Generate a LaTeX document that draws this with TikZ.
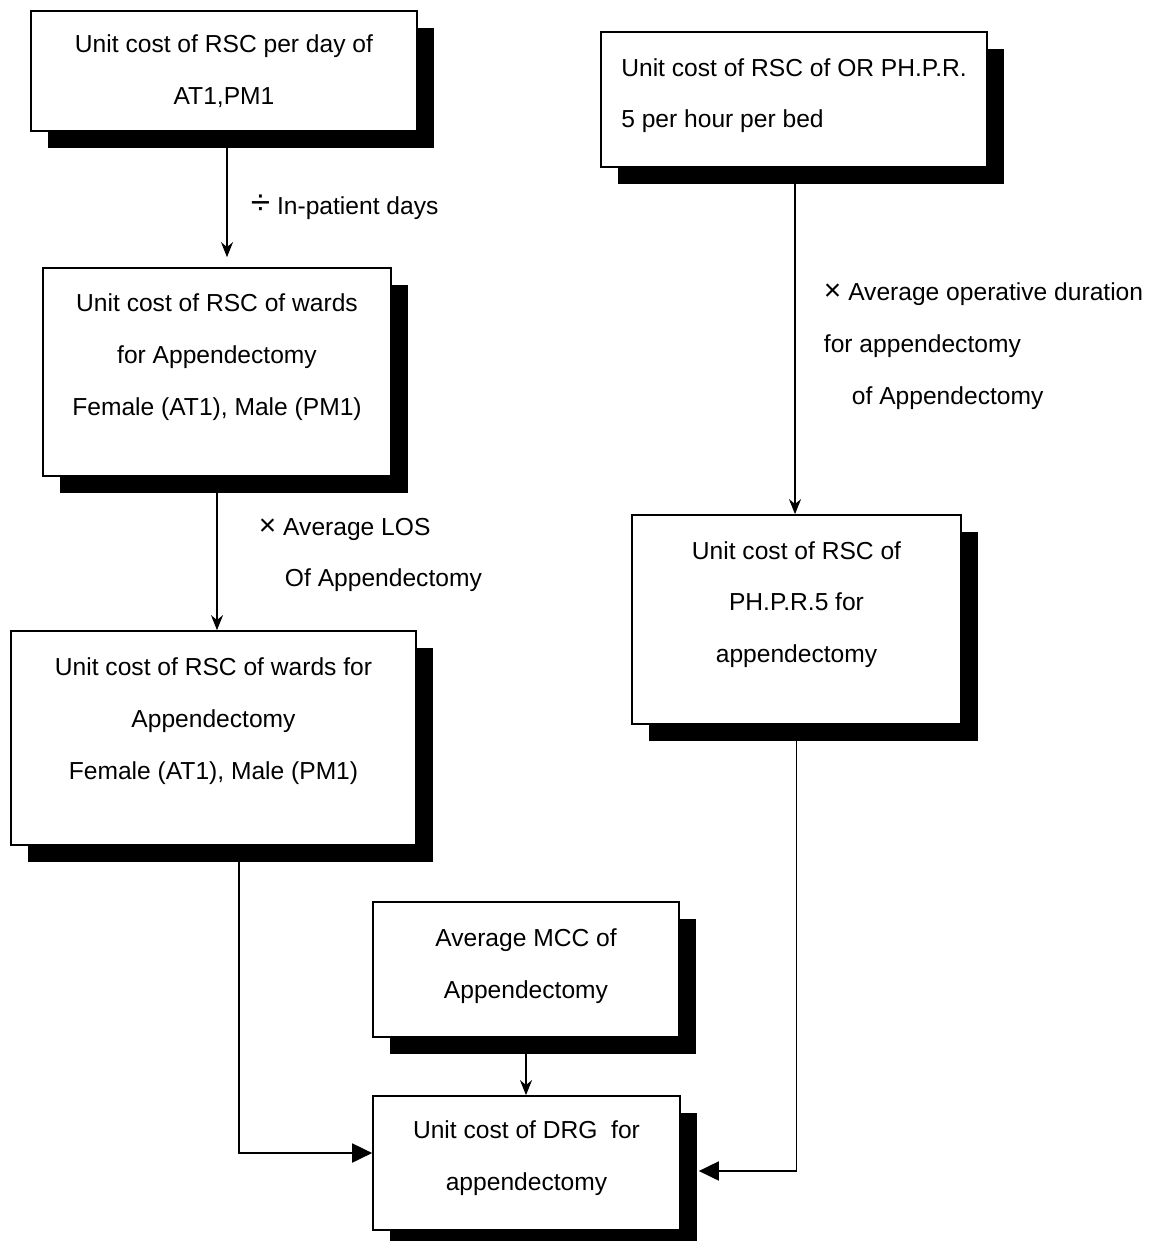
\documentclass[tikz,border=0pt]{standalone}
\usepackage{fontspec}
\setmainfont{Liberation Sans}
\usepackage{tikz}
\usetikzlibrary{arrows.meta,positioning,shadows}

\begin{document}
\begin{tikzpicture}[x=0.02cm,y=-0.02cm,>={Stealth[length=0.3cm,width=0.24cm]},
                    line width=1.1pt,
                    cost box/.style={draw,fill=white,line width=1pt,align=center,inner sep=0pt,
                      font=\fontsize{14}{29.5}\selectfont,
                      drop shadow={shadow xshift=0.34cm,shadow yshift=-0.34cm,fill=black,opacity=1}},
                    step label/.style={align=left,anchor=west,inner sep=0pt,font=\fontsize{14}{29.5}\selectfont},
                    big tip/.style={-{Triangle[length=0.4cm,width=0.38cm]}}]
      \useasboundingbox (0,0) rectangle (1165,1241);

      \node[cost box,minimum width=7.72cm,minimum height=2.4cm] (perday) at (224,71)
        {Unit cost of RSC per day of\\AT1,PM1};
      \node[cost box,align=left,minimum width=7.72cm,minimum height=2.7cm,text depth=0.26cm] (orbed) at (794,99.5)
        {Unit cost of RSC of OR PH.P.R.\\5 per hour per bed};
      \node[cost box,minimum width=6.96cm,minimum height=4.16cm,text depth=0.7cm] (ward1) at (217,372)
        {Unit cost of RSC of wards\\for Appendectomy\\Female (AT1), Male (PM1)};
      \node[cost box,minimum width=8.1cm,minimum height=4.28cm,text depth=0.78cm] (ward2) at (213.5,738)
        {Unit cost of RSC of wards for\\Appendectomy\\Female (AT1), Male (PM1)};
      \node[cost box,minimum width=6.58cm,minimum height=4.18cm,text depth=0.7cm] (orcase) at (796.5,619.5)
        {Unit cost of RSC of\\PH.P.R.5 for\\appendectomy};
      \node[cost box,minimum width=6.12cm,minimum height=2.7cm,text depth=0.22cm] (mcc) at (526,969.5)
        {Average MCC of\\Appendectomy};
      \node[cost box,minimum width=6.14cm,minimum height=2.68cm,text depth=0.3cm] (drg) at (526.5,1163)
        {Unit cost of DRG\ \ for\\appendectomy};

      % labels on the arrows
      \node[step label] (divdays) at (250,207) {{\fontsize{20}{20}\selectfont ÷} In-patient days};
      \node[step label] (mullos) at (258,555)
        {{\fontsize{17}{17}\selectfont ×} Average LOS\\\hspace{0.52cm}Of Appendectomy};
      \node[step label] (muldur) at (823,346)
        {{\fontsize{17}{17}\selectfont ×} Average operative duration\\for appendectomy\\\hspace{0.56cm}of Appendectomy};

      \draw[->,shorten >=0.2cm] ([xshift=0.06cm]perday.south) -- ([xshift=0.06cm]perday.south |- ward1.north);
      \draw[->] (ward1.south) -- (ward1.south |- ward2.north);
      \draw[->] ([xshift=0.02cm]orbed.south) -- ([xshift=0.02cm]orbed.south |- orcase.north);
      \draw[->] (mcc.south) -- (mcc.south |- drg.north);
      \draw[big tip] ([xshift=0.51cm]ward2.south) |- ([yshift=0.2cm]drg.west);
      \draw[big tip] (orcase.south) |- ([shift={(0.36cm,-0.16cm)}]drg.east);
\end{tikzpicture}
\end{document}
